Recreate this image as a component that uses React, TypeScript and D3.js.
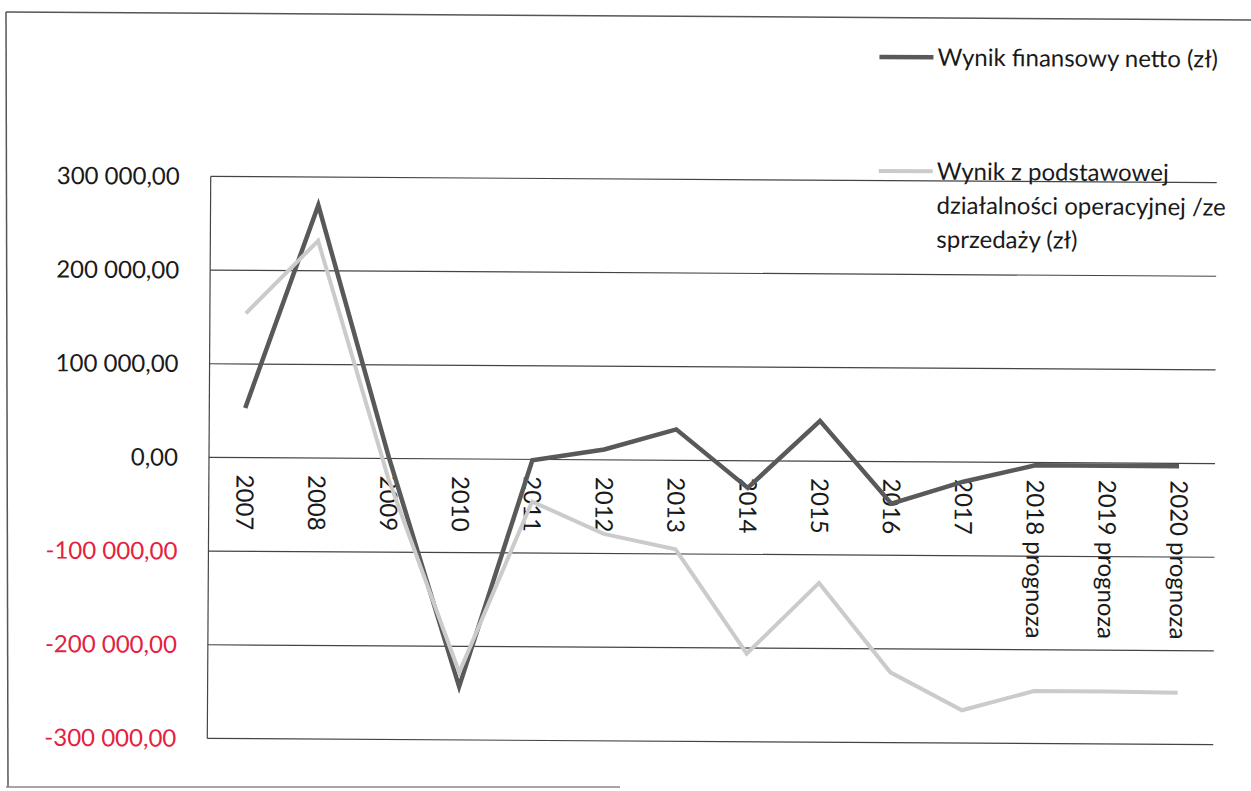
import React from "react";
import * as d3 from "d3";

const categories = [
  "2007", "2008", "2009", "2010", "2011", "2012", "2013", "2014", "2015", "2016", "2017",
  "2018 prognoza", "2019 prognoza", "2020 prognoza",
];
const netto = [53000, 270000, 2000, -243000, -1000, 11000, 33000, -29000, 43000, -45000, -21000, -3000, -3000, -3000];
const podstawowa = [154000, 232000, -22000, -228000, -45000, -79000, -95000, -206000, -130000, -225000, -265000, -244000, -244000, -245000];
const yTicks = [300000, 200000, 100000, 0, -100000, -200000, -300000];
const seriesNames = ["Wynik finansowy netto (zł)", "Wynik z podstawowej działalności operacyjnej /ze sprzedaży (zł)"];
const legendLines2 = ["Wynik z podstawowej", "działalności operacyjnej /ze", "sprzedaży (zł)"];

const W = 1251, H = 791;
const plot = { left: 209, right: 1215, top: 179.5, bottom: 741.5 };
const FONT = "Lato, 'Open Sans', sans-serif";

function fmt(v: number) {
  const s = d3.format(",.2f")(Math.abs(v)).replace(/,/g, " ").replace(".", ",");
  return (v < 0 ? "-" : "") + s;
}

export default function App() {
  const x = d3.scalePoint<string>().domain(categories).range([plot.left, plot.right]).padding(0.5);
  const y = d3.scaleLinear().domain([-300000, 300000]).range([plot.bottom, plot.top]);
  const line = d3.line<number>().x((_, i) => x(categories[i]) as number).y((d) => y(d));
  const darkColor = "#595959";
  const lightColor = "#cbcbcb";

  return (
    <svg width={W} height={H} style={{ position: "absolute", left: 0, top: 0, background: "#fff" }}>
      <line x1={6} y1={12} x2={1251} y2={20} stroke="#555" strokeWidth={1.5} />
      <line x1={6} y1={12} x2={8} y2={787} stroke="#555" strokeWidth={1.5} />
      <line x1={6} y1={787} x2={620} y2={787} stroke="#888" strokeWidth={1.5} />

      <g transform="rotate(0.35, 712, 460)">
        {yTicks.map((t) => (
          <line key={t} x1={plot.left} x2={plot.right} y1={y(t)} y2={y(t)} stroke="#444" strokeWidth={1.2} />
        ))}
        <line x1={plot.left} x2={plot.left} y1={plot.top} y2={plot.bottom} stroke="#444" strokeWidth={1.2} />

        {yTicks.map((t) => (
          <text key={t} x={178} y={y(t)} dy="0.35em" textAnchor="end" fontFamily={FONT} fontSize={24}
            fill={t < 0 ? "#e3223f" : "#1a1a1a"}>
            {fmt(t)}
          </text>
        ))}

        {categories.map((c) => (
          <text key={c} transform={`translate(${(x(c) as number)},${y(0) + 17}) rotate(90)`}
            dy="0.35em" textAnchor="start" fontFamily={FONT} fontSize={24} fill="#1a1a1a">
            {c}
          </text>
        ))}

        <path d={line(netto) || ""} fill="none" stroke={darkColor} strokeWidth={4.5} strokeLinejoin="miter" />
        <path d={line(podstawowa) || ""} fill="none" stroke={lightColor} strokeWidth={4} strokeLinejoin="miter" />

        <line x1={877} x2={931} y1={56} y2={56} stroke={darkColor} strokeWidth={4.5} />
        <text x={935} y={56} dy="0.35em" fontFamily={FONT} fontSize={24} fill="#1a1a1a">{seriesNames[0]}</text>
        <line x1={877} x2={931} y1={170} y2={170} stroke={lightColor} strokeWidth={4} />
        {legendLines2.map((l, i) => (
          <text key={l} x={935} y={170 + i * 34} dy="0.35em" fontFamily={FONT} fontSize={24} fill="#1a1a1a">{l}</text>
        ))}
      </g>
    </svg>
  );
}
